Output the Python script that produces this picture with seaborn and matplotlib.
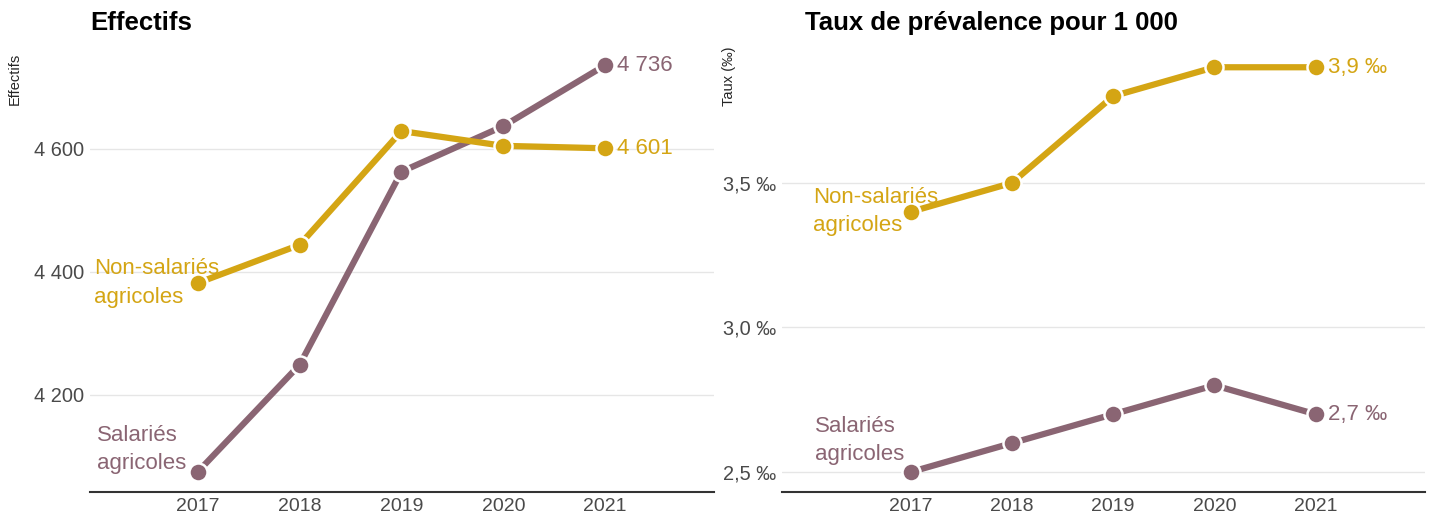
import matplotlib
matplotlib.use("Agg")
import matplotlib.pyplot as plt
import seaborn as sns
import pandas as pd

years = [2017, 2018, 2019, 2020, 2021]
effectifs_salaries = [4075, 4249, 4563, 4637, 4736]
effectifs_non_salaries = [4382, 4444, 4629, 4605, 4601]
taux_salaries = [2.5, 2.6, 2.7, 2.8, 2.7]
taux_non_salaries = [3.4, 3.5, 3.8, 3.9, 3.9]
groups = ["Salariés agricoles", "Non-salariés agricoles"]
eff_ticks = [4200, 4400, 4600]
eff_ticklabels = ["4 200", "4 400", "4 600"]
taux_ticks = [2.5, 3.0, 3.5]
taux_ticklabels = ["2,5 ‰", "3,0 ‰", "3,5 ‰"]

C_SAL = "#8A6573"
C_NON = "#D4A514"
palette = {groups[0]: C_SAL, groups[1]: C_NON}

sns.set_theme(style="white")
plt.rcParams["font.family"] = ["Liberation Sans", "DejaVu Sans"]

df_eff = pd.DataFrame({
    "annee": years * 2,
    "valeur": effectifs_salaries + effectifs_non_salaries,
    "groupe": [groups[0]] * 5 + [groups[1]] * 5,
})
df_taux = pd.DataFrame({
    "annee": years * 2,
    "valeur": taux_salaries + taux_non_salaries,
    "groupe": [groups[0]] * 5 + [groups[1]] * 5,
})

fig = plt.figure(figsize=(14.41, 5.16), dpi=100)
ax1 = fig.add_axes([90 / 1441, 24 / 516, 624 / 1441, 447 / 516])
ax2 = fig.add_axes([782 / 1441, 24 / 516, 643 / 1441, 447 / 516])

TICK_C = "#4a4a4a"
for ax, df in [(ax1, df_eff), (ax2, df_taux)]:
    sns.lineplot(data=df, x="annee", y="valeur", hue="groupe", palette=palette,
                 ax=ax, linewidth=4.5, marker="o", markersize=13,
                 markeredgecolor="white", markeredgewidth=1.8, legend=False)
    ax.set_xticks(years)
    ax.set_xticklabels([str(y) for y in years], fontsize=14, color=TICK_C)
    ax.grid(axis="y", color="#e6e6e6", linewidth=1)
    ax.set_axisbelow(True)
    for s in ["top", "right", "left"]:
        ax.spines[s].set_visible(False)
    ax.spines["bottom"].set_color("#333333")
    ax.spines["bottom"].set_linewidth(1.5)
    ax.tick_params(axis="both", length=0, pad=4)
    ax.set_xlabel("")
    ax.set_ylabel("")

LBL = 16
# Left panel
ax1.set_xlim(2015.94, 2022.07)
ax1.set_ylim(4042, 4769)
ax1.set_yticks(eff_ticks)
ax1.set_yticklabels(eff_ticklabels, fontsize=14.4, color=TICK_C)
ax1.set_title("Effectifs", loc="left", fontsize=18.5, fontweight="bold", pad=11, color="black")
fig.text(8 / 1441, 1 - 53 / 516, "Effectifs", rotation=90, fontsize=10.5, va="top", ha="left")
ax1.text(2015.98, effectifs_non_salaries[0], "Non-salariés\nagricoles", color=C_NON, fontsize=LBL,
         va="center", ha="left", linespacing=1.45)
ax1.text(2016.01, effectifs_salaries[0] + 36, "Salariés\nagricoles", color=C_SAL, fontsize=LBL,
         va="center", ha="left", linespacing=1.45)
ax1.text(2021.12, effectifs_salaries[-1], "4 736", color=C_SAL, fontsize=LBL, va="center")
ax1.text(2021.12, effectifs_non_salaries[-1], "4 601", color=C_NON, fontsize=LBL, va="center")

# Right panel
ax2.set_xlim(2015.73, 2022.08)
ax2.set_ylim(2.431, 3.977)
ax2.set_yticks(taux_ticks)
ax2.set_yticklabels(taux_ticklabels, fontsize=14.4, color=TICK_C)
ax2.set_title("Taux de prévalence pour 1 000", loc="left", fontsize=18.5, fontweight="bold",
              x=(805 - 782) / 643, pad=11, color="black")
fig.text(722 / 1441, 1 - 47 / 516, "Taux (‰)", rotation=90, fontsize=10.5, va="top", ha="left")
ax2.text(2016.04, taux_non_salaries[0], "Non-salariés\nagricoles", color=C_NON, fontsize=LBL,
         va="center", ha="left", linespacing=1.45)
ax2.text(2016.06, taux_salaries[0] + 0.11, "Salariés\nagricoles", color=C_SAL, fontsize=LBL,
         va="center", ha="left", linespacing=1.45)
ax2.text(2021.12, taux_non_salaries[-1], "3,9 ‰", color=C_NON, fontsize=LBL, va="center")
ax2.text(2021.12, taux_salaries[-1], "2,7 ‰", color=C_SAL, fontsize=LBL, va="center")

fig.savefig("out.png", dpi=100, facecolor="white")
